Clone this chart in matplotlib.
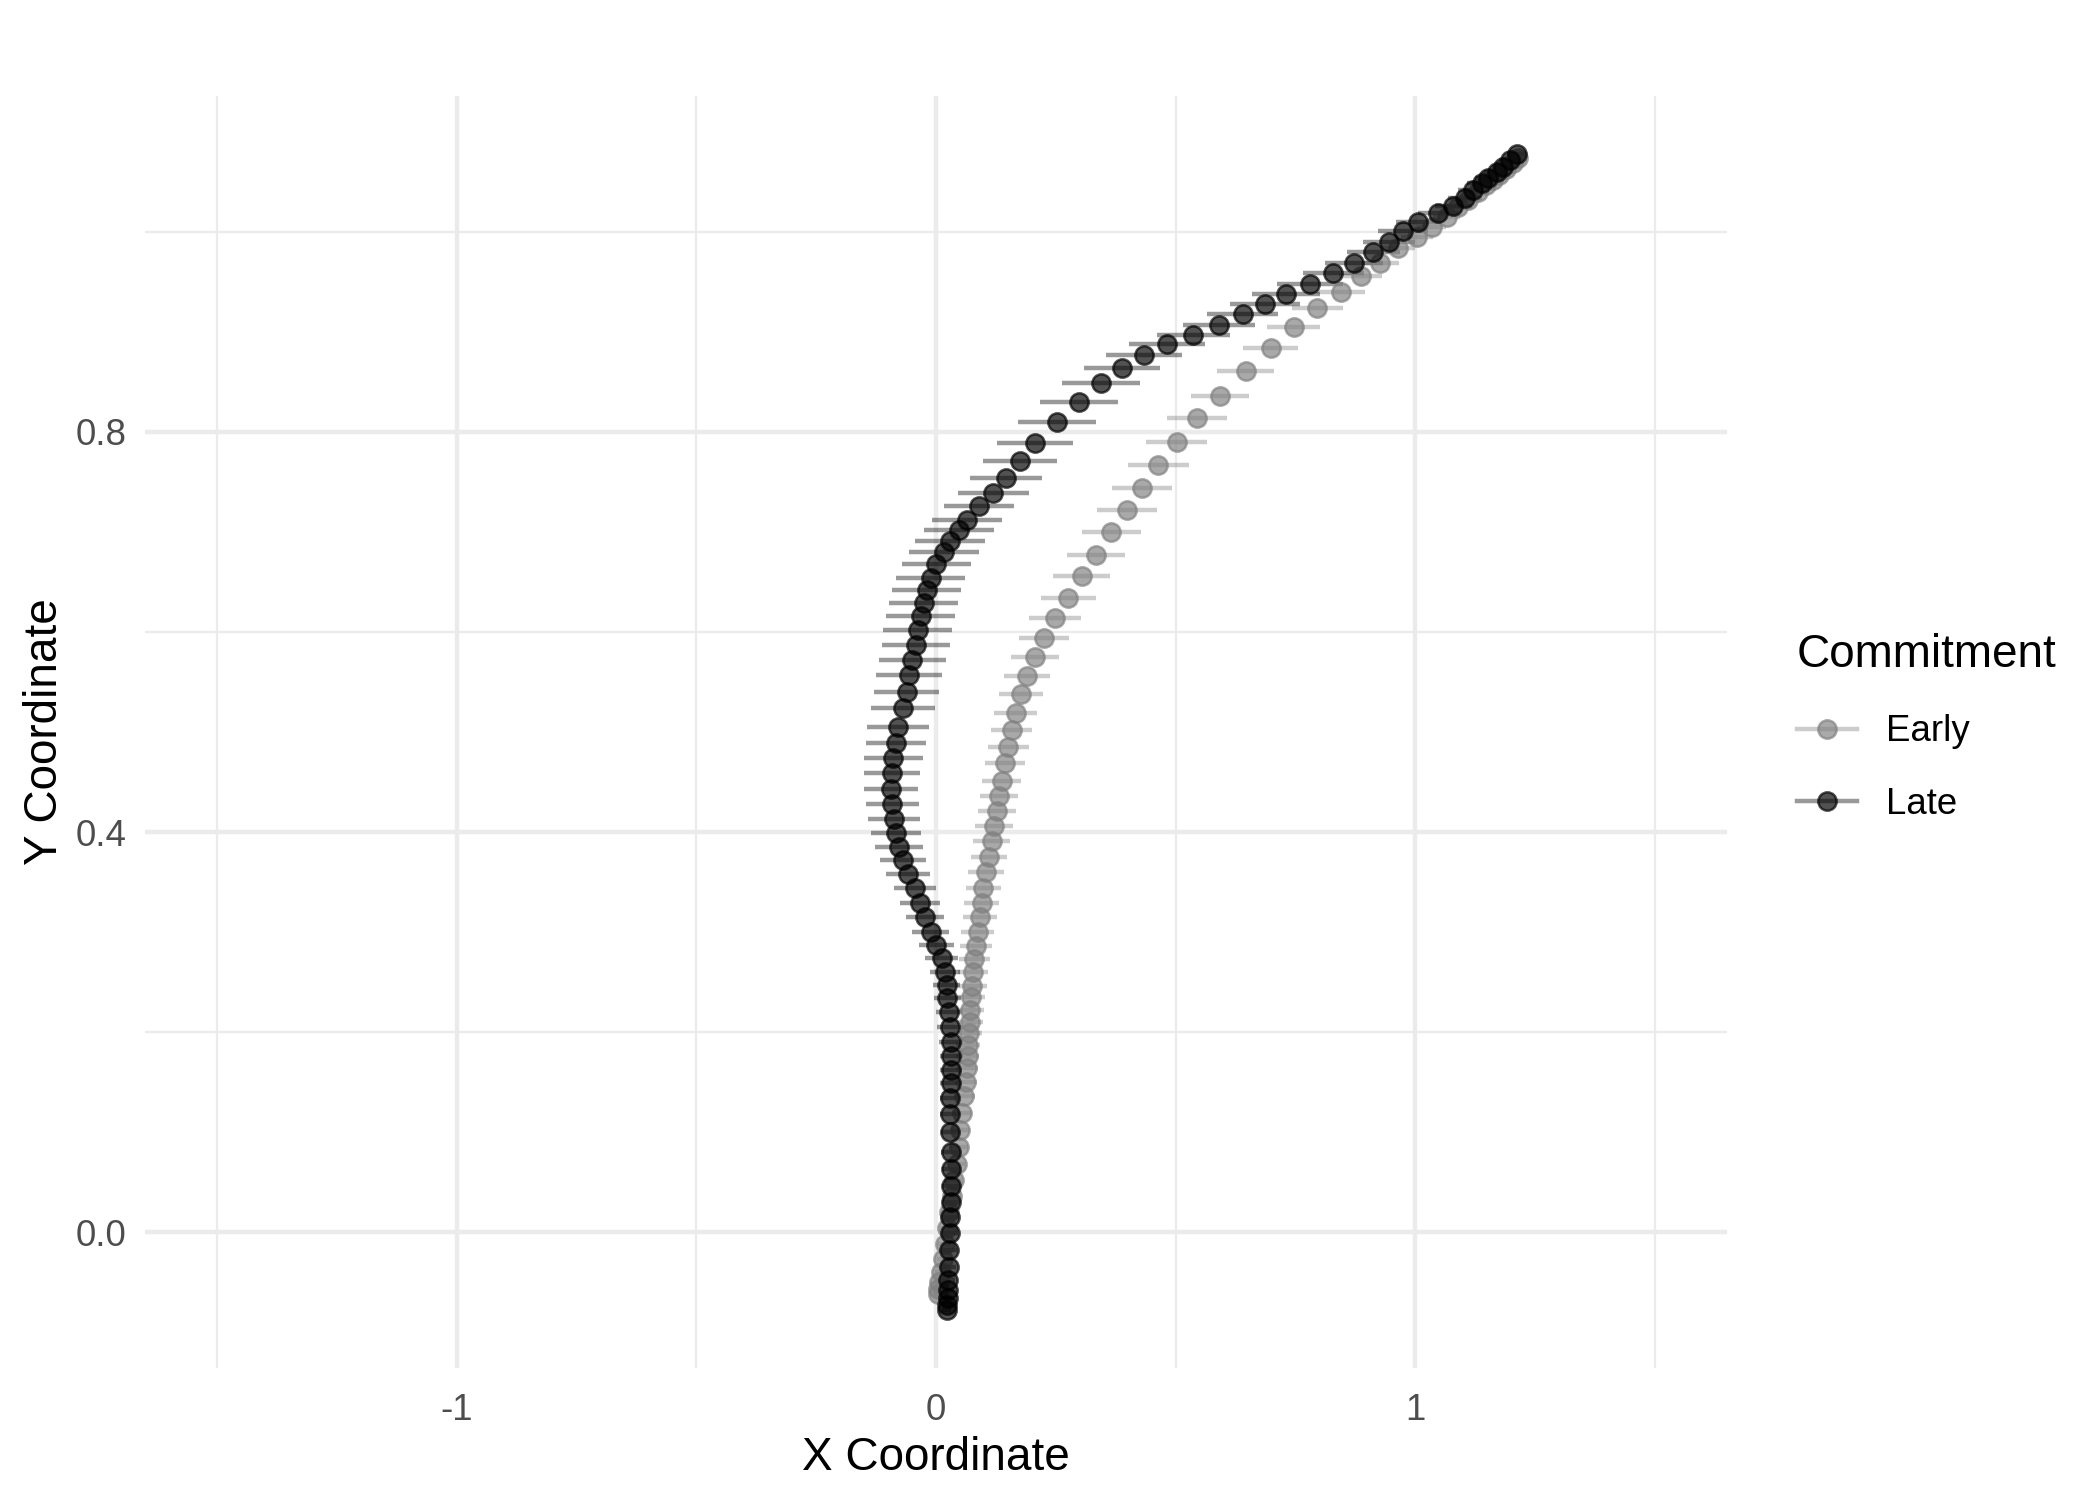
import matplotlib
matplotlib.use("Agg")
import matplotlib.pyplot as plt
from matplotlib.lines import Line2D
import numpy as np

plt.rcParams['font.family'] = ['Liberation Sans', 'DejaVu Sans']

# ---- data ----
late_y = [-0.078, -0.073, -0.066, -0.058, -0.048, -0.035, -0.018, -0.001, 0.015, 0.030,
          0.046, 0.063, 0.080, 0.100, 0.118, 0.134, 0.149, 0.162, 0.176, 0.190,
          0.205, 0.220, 0.234, 0.247, 0.260, 0.274, 0.287, 0.300, 0.315, 0.329,
          0.344, 0.358, 0.372, 0.385, 0.399, 0.413, 0.428, 0.443, 0.459, 0.474,
          0.489, 0.505, 0.524, 0.540, 0.557, 0.572, 0.587, 0.602, 0.616, 0.629,
          0.642, 0.654, 0.668, 0.680, 0.691, 0.702, 0.712, 0.726, 0.739, 0.754,
          0.771, 0.789, 0.810, 0.830, 0.849, 0.864, 0.877, 0.888, 0.897, 0.907,
          0.918, 0.928, 0.938, 0.948, 0.959, 0.969, 0.980, 0.990, 1.001, 1.010,
          1.019, 1.026, 1.034, 1.042, 1.049, 1.054, 1.060, 1.065, 1.072, 1.078]
late_x = [0.022, 0.023, 0.025, 0.025, 0.026, 0.027, 0.028, 0.029, 0.030, 0.031,
          0.031, 0.031, 0.031, 0.030, 0.030, 0.030, 0.031, 0.031, 0.032, 0.031,
          0.029, 0.027, 0.024, 0.022, 0.019, 0.012, 0.001, -0.011, -0.023, -0.033,
          -0.044, -0.058, -0.068, -0.0765, -0.083, -0.088, -0.091, -0.094, -0.092, -0.089,
          -0.083, -0.079, -0.069, -0.061, -0.056, -0.049, -0.042, -0.038, -0.032, -0.026,
          -0.019, -0.011, 0.001, 0.016, 0.030, 0.047, 0.064, 0.090, 0.119, 0.147,
          0.175, 0.206, 0.252, 0.298, 0.344, 0.388, 0.434, 0.482, 0.537, 0.591,
          0.640, 0.686, 0.731, 0.781, 0.829, 0.872, 0.912, 0.945, 0.975, 1.006,
          1.048, 1.079, 1.103, 1.121, 1.138, 1.152, 1.170, 1.183, 1.197, 1.211]
late_se = [0.010, 0.011, 0.012, 0.013, 0.014, 0.015, 0.016, 0.017, 0.018, 0.018,
           0.019, 0.019, 0.020, 0.020, 0.021, 0.021, 0.022, 0.023, 0.024, 0.025,
           0.026, 0.027, 0.028, 0.029, 0.031, 0.034, 0.036, 0.038, 0.040, 0.042,
           0.044, 0.046, 0.048, 0.050, 0.052, 0.054, 0.055, 0.057, 0.059, 0.061,
           0.062, 0.064, 0.066, 0.068, 0.069, 0.070, 0.071, 0.072, 0.072, 0.072,
           0.072, 0.072, 0.072, 0.073, 0.073, 0.073, 0.073, 0.073, 0.074, 0.075,
           0.077, 0.079, 0.081, 0.082, 0.081, 0.080, 0.080, 0.079, 0.077, 0.075,
           0.074, 0.073, 0.071, 0.069, 0.063, 0.061, 0.055, 0.054, 0.052, 0.047,
           0.042, 0.038, 0.035, 0.032, 0.030, 0.028, 0.026, 0.024, 0.022, 0.020]

early_y = [-0.062, -0.057, -0.050, -0.040, -0.027, -0.012, 0.004, 0.020, 0.036, 0.052,
           0.068, 0.085, 0.102, 0.119, 0.136, 0.150, 0.164, 0.176, 0.187, 0.199,
           0.210, 0.222, 0.235, 0.246, 0.260, 0.273, 0.286, 0.300, 0.315, 0.329,
           0.344, 0.360, 0.375, 0.391, 0.406, 0.421, 0.436, 0.451, 0.469, 0.485,
           0.502, 0.519, 0.538, 0.556, 0.575, 0.594, 0.614, 0.634, 0.656, 0.677,
           0.700, 0.722, 0.744, 0.767, 0.790, 0.814, 0.836, 0.861, 0.884, 0.905,
           0.924, 0.940, 0.956, 0.969, 0.984, 0.995, 1.005, 1.015, 1.025, 1.032,
           1.040, 1.047, 1.052, 1.057, 1.063, 1.069, 1.074]
early_x = [0.004, 0.005, 0.007, 0.010, 0.014, 0.018, 0.023, 0.028, 0.033, 0.038,
           0.043, 0.047, 0.051, 0.055, 0.059, 0.062, 0.064, 0.066, 0.067, 0.069,
           0.071, 0.072, 0.073, 0.076, 0.077, 0.080, 0.083, 0.087, 0.092, 0.095,
           0.099, 0.104, 0.111, 0.116, 0.121, 0.127, 0.132, 0.137, 0.144, 0.151,
           0.158, 0.166, 0.177, 0.190, 0.206, 0.225, 0.248, 0.276, 0.304, 0.334,
           0.366, 0.398, 0.430, 0.464, 0.502, 0.545, 0.592, 0.646, 0.698, 0.746,
           0.795, 0.844, 0.886, 0.926, 0.964, 1.003, 1.034, 1.065, 1.089, 1.110,
           1.131, 1.148, 1.162, 1.175, 1.189, 1.203, 1.213]
early_se = [0.008, 0.009, 0.010, 0.011, 0.012, 0.013, 0.014, 0.015, 0.016, 0.017,
            0.018, 0.019, 0.020, 0.021, 0.022, 0.023, 0.023, 0.024, 0.025, 0.026,
            0.027, 0.028, 0.029, 0.030, 0.031, 0.032, 0.033, 0.034, 0.035, 0.036,
            0.037, 0.037, 0.038, 0.038, 0.039, 0.039, 0.040, 0.040, 0.041, 0.042,
            0.043, 0.045, 0.046, 0.048, 0.050, 0.052, 0.055, 0.057, 0.059, 0.060,
            0.061, 0.062, 0.063, 0.064, 0.064, 0.063, 0.061, 0.059, 0.058, 0.056,
            0.053, 0.050, 0.045, 0.040, 0.036, 0.033, 0.030, 0.028, 0.026, 0.024,
            0.022, 0.021, 0.020, 0.019, 0.018, 0.017, 0.016]

groups = ["Early", "Late"]
x_ticks = [-1, 0, 1]
x_minor = [-1.5, -0.5, 0.5, 1.5]
y_ticks = [0.0, 0.4, 0.8]
y_minor = [0.2, 0.6, 1.0]

# ---- style ----
colors = {"Early": (0.5, 0.5, 0.5), "Late": (0.0, 0.0, 0.0)}
pt_alpha = 0.68
bar_alpha = 0.4

fig = plt.figure(figsize=(7, 5), dpi=300)
ax = fig.add_axes([0.069, 0.088, 0.7534, 0.848])

series = {"Early": (early_x, early_y, early_se), "Late": (late_x, late_y, late_se)}

# error bars first
for g in groups:
    x, y, se = series[g]
    c = colors[g]
    ax.errorbar(x, y, xerr=se, fmt='none', ecolor=(*c, bar_alpha),
                elinewidth=1.07, capsize=0, zorder=2)
# points
for g in groups:
    x, y, se = series[g]
    c = colors[g]
    ax.plot(x, y, linestyle='none', marker='o', markersize=4.4,
            markerfacecolor=(*c, pt_alpha), markeredgecolor=(*c, pt_alpha),
            markeredgewidth=0.6, zorder=3)

ax.set_xlim(-1.65, 1.65)
all_y = np.array(early_y + late_y)
yr = all_y.max() - all_y.min()
ax.set_ylim(all_y.min() - 0.05 * yr, all_y.max() + 0.05 * yr)

ax.set_xticks(x_ticks)
ax.set_xticklabels(["-1", "0", "1"])
ax.set_xticks(x_minor, minor=True)
ax.set_yticks(y_ticks)
ax.set_yticklabels(["0.0", "0.4", "0.8"])
ax.set_yticks(y_minor, minor=True)

ax.grid(True, which='major', color='#ebebeb', linewidth=1.07, zorder=0)
ax.grid(True, which='minor', color='#ebebeb', linewidth=0.53, zorder=0)
ax.set_axisbelow(True)
for s in ax.spines.values():
    s.set_visible(False)
ax.tick_params(which='both', length=0)
ax.tick_params(axis='x', labelsize=8.8, labelcolor='#4d4d4d', pad=6)
ax.tick_params(axis='y', labelsize=8.8, labelcolor='#4d4d4d', pad=4.4)

ax.set_xlabel("X Coordinate", fontsize=11, color='black', labelpad=1.8)
ax.set_ylabel("Y Coordinate", fontsize=11, color='black', labelpad=2.0)

handles = []
for g in groups:
    c = colors[g]
    handles.append(Line2D([0], [0], color=(*c, bar_alpha), linewidth=1.07,
                          marker='o', markersize=4.4,
                          markerfacecolor=(*c, pt_alpha),
                          markeredgecolor=(*c, pt_alpha), markeredgewidth=0.6))
leg = fig.legend(handles, groups, title="Commitment", loc='upper left',
                 bbox_to_anchor=(0.8555, 0.578), frameon=False, fontsize=8.8,
                 title_fontsize=11, handlelength=1.64, handletextpad=0.8,
                 labelspacing=1.02, borderpad=0, borderaxespad=0,
                 alignment='left')

fig.savefig("out.png", dpi=300, facecolor='white')
